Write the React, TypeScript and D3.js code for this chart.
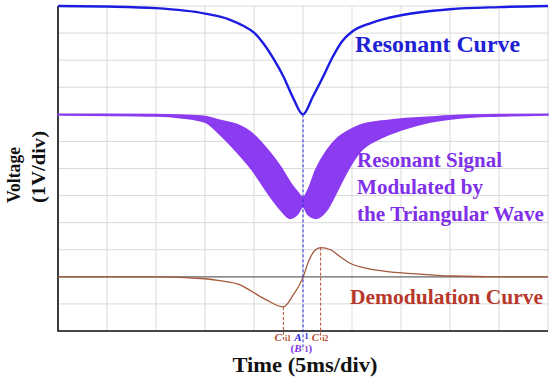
import React, {useRef, useEffect} from 'react';
import * as d3 from 'd3';

// resonant curve (time in ms, voltage in V, screen offset included)
const resonantTime = [0, 5, 10, 15, 17.5, 19, 20, 21, 22, 23, 24, 25, 26, 27, 28, 29, 30, 32, 35, 40, 45, 50];
const resonantVolt = [12, 11.98, 11.92, 11.72, 11.5, 11.25, 11.02, 10.6, 10.05, 9.4, 8.6, 8.0, 8.65, 9.35, 10.1, 10.7, 11.05, 11.38, 11.66, 11.88, 11.96, 12];

// modulated signal envelopes
const signalTime = [0, 10, 12.5, 15, 16.5, 18.2, 19.8, 21.6, 22.7, 23.7, 24.4, 25, 25.5, 26.3, 27.4, 28.6, 29.6, 30.8, 33, 35, 38, 41, 45, 50];
const signalUpper = [8, 7.99, 7.97, 7.92, 7.78, 7.63, 7.3, 6.6, 6.07, 5.48, 5.15, 4.92, 5.2, 5.95, 6.65, 7.15, 7.39, 7.6, 7.75, 7.83, 7.9, 7.96, 7.99, 8];
const signalLower = [7.98, 7.94, 7.88, 7.72, 7.27, 6.63, 5.95, 4.99, 4.48, 4.16, 4.3, 4.6, 4.3, 4.16, 4.45, 5.25, 5.95, 6.61, 7.13, 7.42, 7.72, 7.87, 7.94, 7.98];

// demodulation curve
const demodTime = [0, 10, 15, 16.5, 18.6, 19.6, 21.3, 23, 24, 25, 25.6, 26.2, 26.8, 27.8, 28.8, 29.8, 31.3, 33.9, 36.9, 40, 45, 50];
const demodVolt = [2, 2, 1.93, 1.86, 1.7, 1.5, 1.14, 0.89, 1.33, 1.98, 2.6, 2.97, 3.08, 3.0, 2.74, 2.5, 2.33, 2.18, 2.1, 2.03, 2.0, 2.0];
const demodZero = 2;

// marker lines below the curves
const markerMain = ['C', 'A', 'C'];
const markerSub = ['i1', '1', 'i2'];
const markerTime = [23, 25, 26.8];
const markerTop = [0.89, 8.0, 3.08];
const markerColor = ['#b24a2c', '#2a2ad8', '#b24a2c'];

const xDomain = [0, 50];
const yDomain = [0, 12];

const W = 550;
const H = 383;
const FONT = 'Liberation Serif, Times New Roman, DejaVu Serif, serif';

const App: React.FC = () => {
    const svgRef = useRef<SVGSVGElement>(null);

    useEffect(() => {
        if (!svgRef.current) return;
        const svg = d3.select(svgRef.current);
        svg.selectAll('*').remove();

        const x = d3.scaleLinear().domain(xDomain).range([58, 548]);
        const y = d3.scaleLinear().domain(yDomain).range([331, 6]);

        // grid
        const grid = svg.append('g');
        grid.selectAll('.vg')
            .data(x.ticks(10))
            .enter()
            .append('line')
            .attr('x1', d => x(d)).attr('x2', d => x(d))
            .attr('y1', y(12)).attr('y2', y(0))
            .style('stroke', '#d9d9d9')
            .style('stroke-width', 1);
        grid.selectAll('.hg')
            .data(d3.range(0, 13))
            .enter()
            .append('line')
            .attr('x1', x(0)).attr('x2', x(50))
            .attr('y1', d => y(d)).attr('y2', d => y(d))
            .style('stroke', '#d9d9d9')
            .style('stroke-width', 1);

        // zero line of the demodulation channel
        svg.append('line')
            .attr('x1', x(0)).attr('x2', x(50))
            .attr('y1', y(demodZero)).attr('y2', y(demodZero))
            .style('stroke', '#6e6e6e')
            .style('stroke-width', 1.3);

        // axes frame
        svg.append('path')
            .attr('d', `M${x(0)},${y(12)}V${y(0)}H${x(50)}`)
            .style('fill', 'none')
            .style('stroke', '#111')
            .style('stroke-width', 1.6);

        // modulated signal band
        const area = d3.area<number>()
            .x((_, i) => x(signalTime[i]))
            .y0((_, i) => y(signalLower[i]))
            .y1((_, i) => y(signalUpper[i]))
            .curve(d3.curveMonotoneX);
        svg.append('path')
            .attr('d', area(signalTime))
            .style('fill', '#8b3bf0')
            .style('stroke', '#8b3bf0')
            .style('stroke-width', 1.6);

        const line = d3.line<number>().curve(d3.curveMonotoneX);

        // resonant curve
        svg.append('path')
            .attr('d', line.x((d, i) => x(resonantTime[i])).y(d => y(d))(resonantVolt))
            .style('fill', 'none')
            .style('stroke', '#1c1ce0')
            .style('stroke-width', 2.4);

        // demodulation curve
        svg.append('path')
            .attr('d', line.x((d, i) => x(demodTime[i])).y(d => y(d))(demodVolt))
            .style('fill', 'none')
            .style('stroke', '#a4583a')
            .style('stroke-width', 1.3);

        const txt = (tx: number, ty: number, size: number, color: string, anchor = 'start') =>
            svg.append('text')
                .attr('x', tx).attr('y', ty)
                .attr('text-anchor', anchor)
                .attr('font-family', FONT)
                .attr('font-weight', 'bold')
                .attr('font-size', size)
                .attr('fill', color);

        // dashed markers and labels
        markerTime.forEach((t, i) => {
            const px = x(t);
            svg.append('line')
                .attr('x1', px).attr('x2', px)
                .attr('y1', y(markerTop[i])).attr('y2', i === 1 ? 350 : 340)
                .style('stroke', markerColor[i])
                .style('stroke-width', 1)
                .style('stroke-dasharray', '3,2');
            txt(px - 1.5, 341, 11, markerColor[i], 'end')
                .attr('font-style', 'italic')
                .text(markerMain[i]);
            txt(px + 1.5, i === 1 ? 339 : 341, 8, markerColor[i])
                .text(markerSub[i]);
        });

        // (B1) under A1
        const bx = x(markerTime[1]);
        const bl = txt(bx - 1.5, 352, 11, '#7b2fe0', 'end');
        bl.append('tspan').text('(');
        bl.append('tspan').attr('font-style', 'italic').text('B');
        const br = txt(bx + 1.5, 352, 11, '#7b2fe0');
        br.append('tspan').attr('font-size', 8).text('1');
        br.append('tspan').text(')');

        // curve names
        const label = (s: string, lx: number, ly: number, size: number, len: number, color: string) => {
            txt(lx, ly, size, color)
                .attr('textLength', len)
                .attr('lengthAdjust', 'spacingAndGlyphs')
                .text(s);
        };
        label('Resonant Curve', 355, 52, 23, 165, '#2020d4');
        label('Resonant Signal', 357, 167, 20, 145, '#8030e8');
        label('Modulated by', 357, 194, 20, 126, '#8030e8');
        label('the Triangular Wave', 357, 221, 20, 187, '#8030e8');
        label('Demodulation Curve', 350, 304, 20, 193, '#b8372b');

        // axis titles
        txt(305, 372, 21, '#111', 'middle')
            .attr('textLength', 145)
            .attr('lengthAdjust', 'spacingAndGlyphs')
            .text('Time (5ms/div)');

        [['Voltage', 20, 56], ['(1V/div)', 45, 72]].forEach(([s, bxl, len]) => {
            svg.append('text')
                .attr('transform', `translate(${bxl},203) rotate(-90)`)
                .attr('textLength', len as number)
                .attr('lengthAdjust', 'spacingAndGlyphs')
                .attr('font-family', FONT)
                .attr('font-weight', 'bold')
                .attr('font-size', 18)
                .attr('fill', '#111')
                .text(s as string);
        });
    }, []);

    return (
        <svg
            ref={svgRef}
            width={W}
            height={H}
            viewBox={`0 0 ${W} ${H}`}
            style={{position: 'absolute', left: 0, top: 0, background: '#fff'}}
        />
    );
};

export default App;
